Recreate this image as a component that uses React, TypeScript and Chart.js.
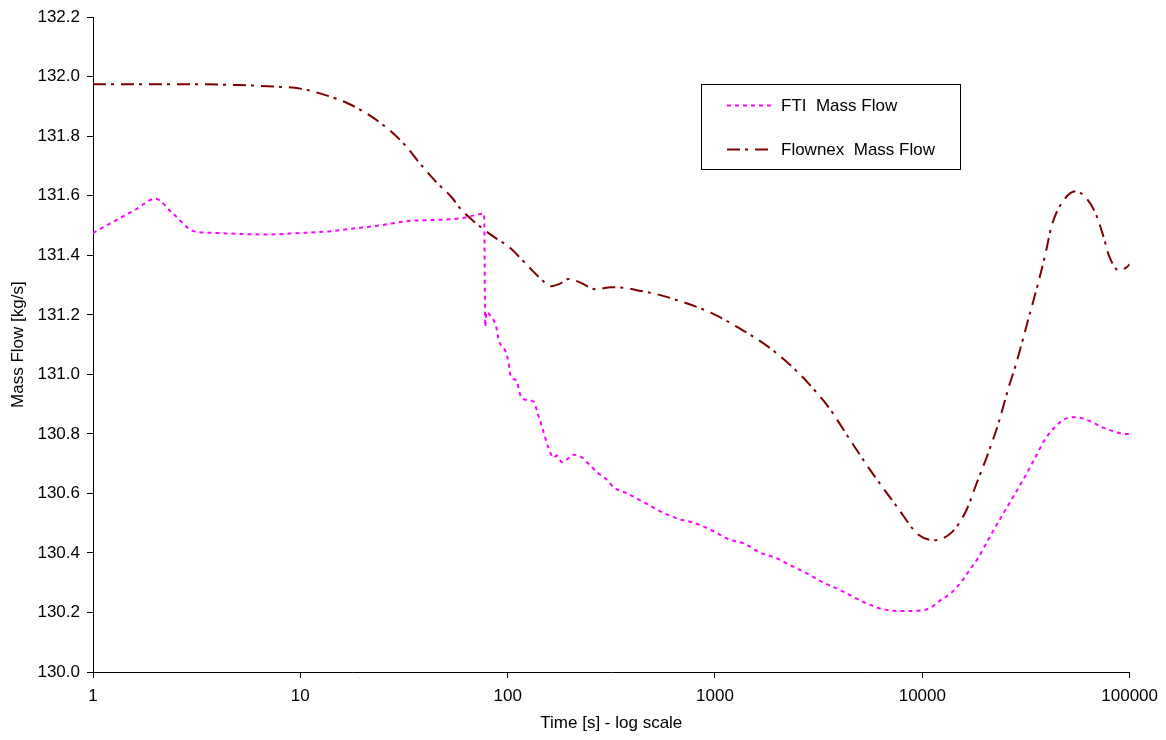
import React, { useEffect, useRef } from "react";
import { Chart, registerables } from "chart.js";

Chart.register(...registerables);

const xTickValues = [1, 10, 100, 1000, 10000, 100000];
const yTickMin = 130.0;
const yTickMax = 132.2;
const yTickStep = 0.2;

const ftiLabel = "FTI  Mass Flow";
const flownexLabel = "Flownex  Mass Flow";

const ftiTime = [
  1, 1.3, 1.6, 2.0, 2.4, 3.1, 4, 5, 6.9, 10, 13.6, 18, 24, 33, 40, 50, 60, 70, 77, 78, 79, 82, 88, 91, 96,
  100, 104, 110, 116, 124, 134, 139, 147, 157, 167, 172, 183, 194, 207, 229, 245, 271, 302, 325, 378, 455,
  545, 650, 800, 960, 1160, 1400, 1630, 1970, 2350, 2800, 3300, 3940, 4430, 5400, 6540, 7980, 10000, 11000,
  12000, 13900, 15500, 17000, 18700, 21000, 24000, 28600, 30900, 35000, 39400, 47000, 53000, 58500, 65600,
  75000, 83000, 95000, 100000,
];
const ftiFlow = [
  131.475, 131.519, 131.553, 131.59, 131.544, 131.48, 131.475, 131.472, 131.47, 131.475, 131.48, 131.49,
  131.5, 131.515, 131.518, 131.52, 131.525, 131.535, 131.54, 131.16, 131.21, 131.2, 131.16, 131.11, 131.088,
  131.055, 130.99, 130.98, 130.925, 130.914, 130.907, 130.873, 130.82, 130.755, 130.72, 130.727, 130.705,
  130.715, 130.73, 130.72, 130.7, 130.67, 130.645, 130.62, 130.6, 130.57, 130.54, 130.517, 130.5, 130.477,
  130.447, 130.43, 130.403, 130.383, 130.356, 130.33, 130.302, 130.278, 130.26, 130.23, 130.21, 130.205,
  130.207, 130.217, 130.237, 130.268, 130.305, 130.345, 130.386, 130.45, 130.52, 130.61, 130.65, 130.72,
  130.785, 130.843, 130.856, 130.853, 130.84, 130.82, 130.81, 130.8, 130.8,
];

const flownexTime = [
  1, 2, 3, 5, 7, 10, 13, 17, 21.6, 27, 32, 37.6, 45.4, 53.7, 58.6, 67.6, 79.7, 88, 102, 114, 127, 145, 162,
  177, 196, 222, 266, 316, 373, 440, 520, 620, 970, 1310, 1830, 2450, 3175, 3530, 4580, 5720, 7460, 9630,
  11380, 13900, 16230, 18300, 20900, 23400, 26100, 28200, 32300, 36500, 39400, 42100, 47000, 55000, 62100,
  68600, 75000, 79400, 88500, 96800, 100000,
];
const flownexFlow = [
  131.975, 131.975, 131.975, 131.972, 131.968, 131.96, 131.94, 131.91, 131.87, 131.82, 131.77, 131.71,
  131.645, 131.595, 131.56, 131.518, 131.478, 131.457, 131.427, 131.394, 131.36, 131.32, 131.296, 131.303,
  131.32, 131.31, 131.286, 131.293, 131.29, 131.28, 131.27, 131.255, 131.205, 131.155, 131.09, 131.014,
  130.93, 130.89, 130.77, 130.67, 130.56, 130.46, 130.443, 130.47, 130.54, 130.635, 130.74, 130.84,
  130.957, 131.03, 131.18, 131.316, 131.41, 131.5, 131.575, 131.615, 131.59, 131.54, 131.46, 131.4, 131.35,
  131.36, 131.37,
];

const FONT = "'Liberation Sans', Arial, sans-serif";
const FTI_COLOR = "#FF00FF";
const FLOWNEX_COLOR = "#800000";
const FTI_DASH = [4, 4];
const FLOWNEX_DASH = [13, 5, 3, 7];

const legendPlugin = {
  id: "customLegend",
  afterDraw(chart: any) {
    const ctx = chart.ctx as CanvasRenderingContext2D;
    ctx.save();
    ctx.fillStyle = "#fff";
    ctx.fillRect(702, 84, 259, 85);
    ctx.strokeStyle = "#000";
    ctx.lineWidth = 1;
    ctx.setLineDash([]);
    ctx.strokeRect(701.5, 84.5, 259, 85);
    const items = [
      { label: ftiLabel, color: FTI_COLOR, dash: FTI_DASH, y: 105.5 },
      { label: flownexLabel, color: FLOWNEX_COLOR, dash: FLOWNEX_DASH, y: 149.5 },
    ];
    ctx.font = `17px ${FONT}`;
    ctx.textBaseline = "middle";
    ctx.textAlign = "left";
    for (const it of items) {
      ctx.strokeStyle = it.color;
      ctx.lineWidth = 2;
      ctx.setLineDash(it.dash);
      ctx.beginPath();
      ctx.moveTo(727, it.y);
      ctx.lineTo(772, it.y);
      ctx.stroke();
      ctx.setLineDash([]);
      ctx.fillStyle = "#000";
      ctx.fillText(it.label, 781, it.y + 1);
    }
    ctx.restore();
  },
};

export default function App() {
  const canvasRef = useRef<HTMLCanvasElement | null>(null);

  useEffect(() => {
    if (!canvasRef.current) return;
    Chart.defaults.color = "#000";
    const chart = new Chart(canvasRef.current, {
      type: "line",
      data: {
        datasets: [
          {
            label: ftiLabel,
            data: ftiTime.map((t, i) => ({ x: t, y: ftiFlow[i] })),
            borderColor: FTI_COLOR,
            borderWidth: 2,
            borderDash: FTI_DASH,
            pointRadius: 0,
            fill: false,
            cubicInterpolationMode: "monotone",
          },
          {
            label: flownexLabel,
            data: flownexTime.map((t, i) => ({ x: t, y: flownexFlow[i] })),
            borderColor: FLOWNEX_COLOR,
            borderWidth: 2,
            borderDash: FLOWNEX_DASH,
            pointRadius: 0,
            fill: false,
            cubicInterpolationMode: "monotone",
          },
        ],
      },
      options: {
        responsive: false,
        animation: false,
        layout: { padding: { top: 17, right: 33, bottom: 0, left: 0 } },
        plugins: {
          legend: { display: false },
          tooltip: { enabled: false },
        },
        scales: {
          x: {
            type: "logarithmic",
            min: 1,
            max: 100000,
            afterBuildTicks: (scale: any) => {
              scale.ticks = xTickValues.map((v) => ({ value: v }));
            },
            afterFit: (scale: any) => {
              scale.height = 68;
            },
            ticks: {
              autoSkip: false,
              maxRotation: 0,
              padding: 8,
              color: "#000",
              font: { family: FONT, size: 17 },
              callback: (v: any) => String(v),
            },
            grid: {
              display: true,
              drawOnChartArea: false,
              drawTicks: true,
              tickLength: 6,
              color: "#000",
            },
            border: { display: true, color: "#000", width: 1 },
            title: {
              display: true,
              text: "Time [s] - log scale",
              color: "#000",
              font: { family: FONT, size: 17 },
              padding: { top: 0, bottom: 6 },
            },
          },
          y: {
            type: "linear",
            min: yTickMin,
            max: yTickMax,
            afterFit: (scale: any) => {
              scale.width = 93;
            },
            ticks: {
              stepSize: yTickStep,
              padding: 7,
              color: "#000",
              font: { family: FONT, size: 17 },
              callback: (v: any) => Number(v).toFixed(1),
            },
            grid: {
              display: true,
              drawOnChartArea: false,
              drawTicks: true,
              tickLength: 6,
              color: "#000",
            },
            border: { display: true, color: "#000", width: 1 },
            title: {
              display: true,
              text: "Mass Flow [kg/s]",
              color: "#000",
              font: { family: FONT, size: 17 },
              padding: { top: 8, bottom: 0 },
            },
          },
        },
      },
      plugins: [legendPlugin],
    } as any);
    return () => chart.destroy();
  }, []);

  return (
    <div style={{ position: "absolute", left: 0, top: 0, width: 1166, height: 740, background: "#fff" }}>
      <canvas ref={canvasRef} width={1166} height={740} style={{ display: "block" }} />
    </div>
  );
}
